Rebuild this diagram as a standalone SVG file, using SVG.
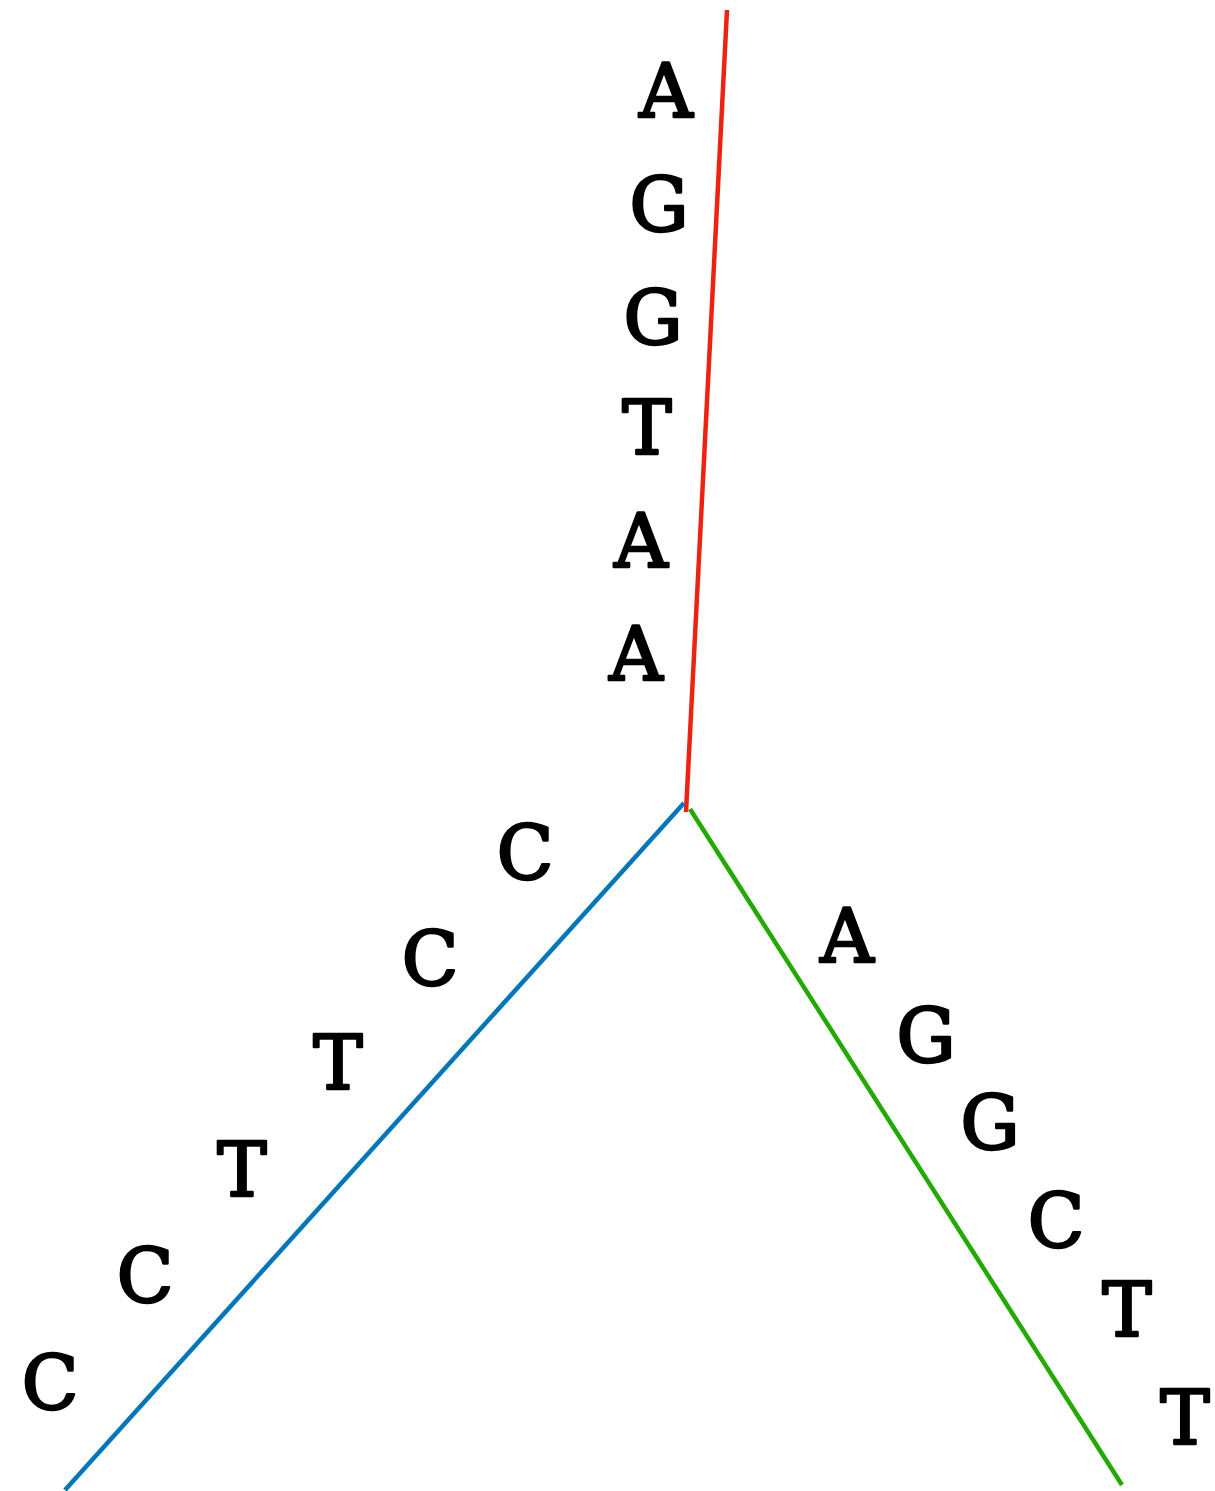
<svg xmlns="http://www.w3.org/2000/svg" width="1215" height="1491" viewBox="0 0 1215 1491">
<style>
.l{font-family:"DejaVu Serif",serif;font-weight:normal;font-size:74px;fill:#000;stroke:#000;stroke-width:2.6;stroke-linejoin:round;text-anchor:middle}
.e{fill:none;stroke-width:4.5}
</style>
<rect width="1215" height="1491" fill="#fff"/>
<g id="connectors">
<line class="e" x1="727" y1="10" x2="686" y2="812" stroke="#ee2211"/>
<line class="e" x1="684" y1="803" x2="65" y2="1490" stroke="#0077bb"/>
<line class="e" x1="690" y1="809" x2="1122" y2="1485" stroke="#22aa00"/>
</g>
<g id="red">
<text class="l" x="666" y="117">A</text>
<text class="l" x="659" y="231">G</text>
<text class="l" x="653" y="344">G</text>
<text class="l" x="647" y="454">T</text>
<text class="l" x="641" y="567">A</text>
<text class="l" x="636" y="680">A</text>
</g>
<g id="blue">
<text class="l" x="525" y="879">C</text>
<text class="l" x="430" y="985">C</text>
<text class="l" x="338" y="1089">T</text>
<text class="l" x="242" y="1196">T</text>
<text class="l" x="145" y="1302">C</text>
<text class="l" x="50" y="1409">C</text>
</g>
<g id="green">
<text class="l" x="847" y="962">A</text>
<text class="l" x="926" y="1062">G</text>
<text class="l" x="990" y="1149">G</text>
<text class="l" x="1056" y="1247">C</text>
<text class="l" x="1127" y="1336">T</text>
<text class="l" x="1185" y="1444">T</text>
</g>
</svg>
